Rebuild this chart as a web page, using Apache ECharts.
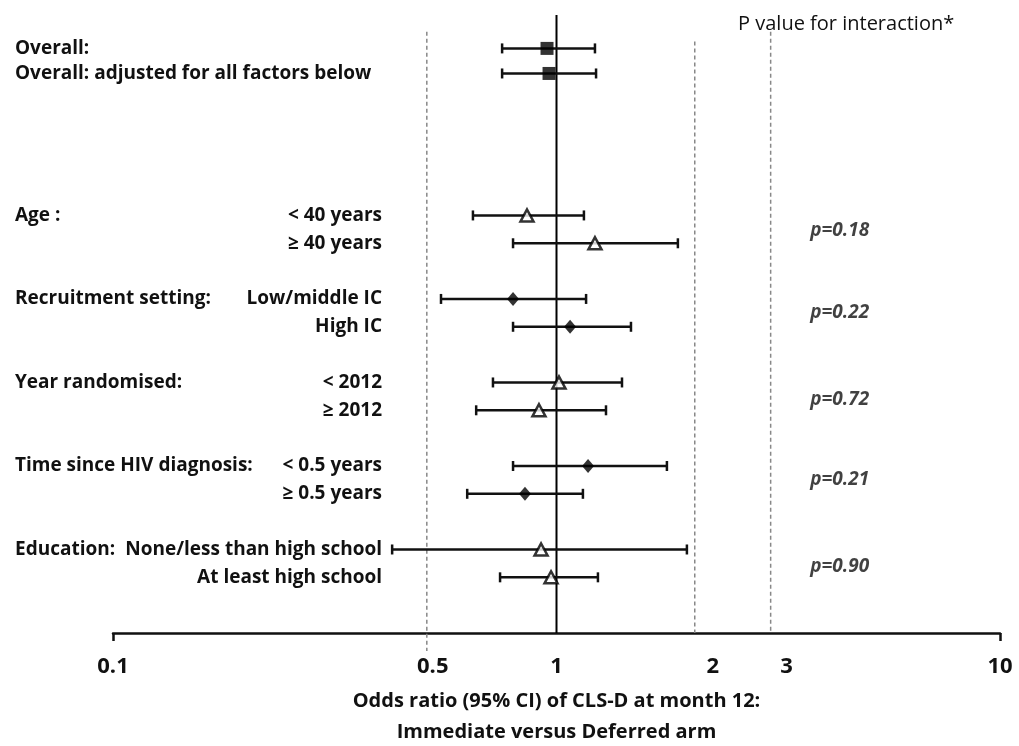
<!DOCTYPE html>
<html>
<head>
<meta charset="utf-8">
<script src="https://cdn.jsdelivr.net/npm/echarts@6/dist/echarts.min.js"></script>
<style>
  html, body { margin: 0; padding: 0; background: #fff; }
  #chart { width: 1019px; height: 746px; }
</style>
</head>
<body>
<div id="chart"></div>
<script>
  // rows of the forest plot, top to bottom
  const groupLabels = ['Overall:', 'Overall: adjusted for all factors below', 'Age :', '', 'Recruitment setting:', '', 'Year randomised:', '', 'Time since HIV diagnosis:', '', 'Education:', '']
  const subLabels = ['', '', '< 40 years', '≥ 40 years', 'Low/middle IC', 'High IC', '< 2012', '≥ 2012', '< 0.5 years', '≥ 0.5 years', 'None/less than high school', 'At least high school']
  const rowSlots = [0, 0.9, 6, 7, 9, 10, 12, 13, 15, 16, 18, 19]
  const oddsRatio = [0.952, 0.962, 0.858, 1.221, 0.798, 1.073, 1.013, 0.913, 1.178, 0.849, 0.923, 0.972]
  const ciLower = [0.754, 0.754, 0.648, 0.798, 0.549, 0.798, 0.719, 0.659, 0.798, 0.629, 0.426, 0.746]
  const ciUpper = [1.221, 1.228, 1.153, 1.878, 1.166, 1.472, 1.405, 1.293, 1.774, 1.147, 1.968, 1.240]
  const markerKind = ['square', 'square', 'triangle', 'triangle', 'diamond', 'diamond', 'triangle', 'triangle', 'diamond', 'diamond', 'triangle', 'triangle']

  // interaction p values, one per subgroup pair
  const pValues = ['p=0.18', 'p=0.22', 'p=0.72', 'p=0.21', 'p=0.90']
  const pValueSlots = [6.55, 9.5, 12.6, 15.5, 18.6]
  const pValueAt = 4.35

  // x axis labels and where they sit on the log scale
  const tickLabels = ['0.1', '0.5', '1', '2', '3', '10']
  const tickLabelAt = [0.1, 0.526, 1, 2.25, 3.3, 10]
  const refLines = [0.51, 2.05, 3.04]

  const FONT = '"Open Sans"'
  const TXT = '#111'

  let chart = echarts.init(document.getElementById('chart'), null, { renderer: 'canvas' })

  const markerStyle = {
    square: { symbol: 'rect', symbolSize: [13, 13], itemStyle: { color: '#000' } },
    diamond: { symbol: 'diamond', symbolSize: [12, 14], itemStyle: { color: '#000' } },
    triangle: { symbol: 'triangle', symbolSize: [13, 12], itemStyle: { color: '#fff', borderColor: '#000', borderWidth: 2.5 } }
  }

  const ciData = rowSlots.map((s, i) => [ciLower[i], ciUpper[i], s])
  const pointData = rowSlots.map((s, i) => Object.assign({ value: [oddsRatio[i], s] }, markerStyle[markerKind[i]]))

  const groupSlots = rowSlots.filter((s, i) => groupLabels[i] !== '')
  const subSlots = rowSlots.filter((s, i) => subLabels[i] !== '')

  const refSeries = refLines.map((v, i) => ({
    type: 'line',
    silent: true,
    clip: false,
    symbol: 'none',
    lineStyle: { color: '#888', width: 1.5, type: [4, 3] },
    data: i === 0 ? [[v, -0.6], [v, 21.65]] : [[v, i === 1 ? -0.25 : -0.6], [v, 21]],
    z: 1
  }))

  let option = {
    backgroundColor: '#fff',
    animation: false,
    title: {
      text: 'P value for interaction*',
      left: 733,
      top: 9,
      textStyle: { fontFamily: FONT, fontSize: 20, fontWeight: 'normal', color: TXT }
    },
    grid: { left: 113, right: 19, top: 15, bottom: 113, outerBoundsMode: 'none' },
    xAxis: {
      type: 'log',
      logBase: 10,
      min: 0.1,
      max: 10,
      axisLine: { show: true, onZero: false, lineStyle: { color: '#111', width: 2.5 } },
      axisTick: { show: true, customValues: [0.1, 10], length: 8, lineStyle: { color: '#111', width: 2.5 } },
      splitLine: { show: false },
      axisLabel: {
        customValues: tickLabelAt,
        formatter: (v) => {
          let k = tickLabelAt.findIndex(t => Math.abs(t - v) < 1e-6)
          return k >= 0 ? tickLabels[k] : ''
        },
        margin: 23,
        fontFamily: FONT,
        fontWeight: 'bold',
        fontSize: 22,
        color: TXT
      },
      name: 'Odds ratio (95% CI) of CLS-D at month 12:\nImmediate versus Deferred arm',
      nameLocation: 'middle',
      nameGap: 53,
      nameTextStyle: { fontFamily: FONT, fontWeight: 'bold', fontSize: 20, color: TXT, lineHeight: 31, align: 'center' }
    },
    yAxis: [{
      type: 'value',
      inverse: true,
      min: -1.2,
      max: 21,
      axisLine: { show: false },
      axisTick: { show: false },
      splitLine: { show: false },
      axisLabel: {
        customValues: groupSlots,
        formatter: (v) => groupLabels[rowSlots.indexOf(v)] || '',
        align: 'left',
        margin: 98,
        fontFamily: FONT,
        fontWeight: 'bold',
        fontSize: 19,
        color: TXT
      }
    }, {
      type: 'value',
      inverse: true,
      min: -1.2,
      max: 21,
      position: 'left',
      axisLine: { show: false },
      axisTick: { show: false },
      splitLine: { show: false },
      axisLabel: {
        customValues: subSlots,
        formatter: (v) => subLabels[rowSlots.indexOf(v)] || '',
        align: 'right',
        margin: -269,
        fontFamily: FONT,
        fontWeight: 'bold',
        fontSize: 19,
        color: TXT
      }
    }],
    series: [
      ...refSeries,
      {
        // line of no effect
        type: 'line',
        silent: true,
        clip: false,
        symbol: 'none',
        lineStyle: { color: '#000', width: 2 },
        data: [[1, -1.2], [1, 21]],
        z: 2
      },
      {
        type: 'custom',
        name: 'ci',
        silent: true,
        clip: false,
        data: ciData,
        encode: { x: [0, 1], y: 2 },
        renderItem: (params, api) => {
          let a = api.coord([api.value(0), api.value(2)])
          let b = api.coord([api.value(1), api.value(2)])
          let st = { stroke: '#111', lineWidth: 2.5 }
          return {
            type: 'group',
            children: [
              { type: 'line', shape: { x1: a[0], y1: a[1], x2: b[0], y2: b[1] }, style: st },
              { type: 'line', shape: { x1: a[0], y1: a[1] - 5, x2: a[0], y2: a[1] + 5 }, style: st },
              { type: 'line', shape: { x1: b[0], y1: b[1] - 5, x2: b[0], y2: b[1] + 5 }, style: st }
            ]
          }
        },
        z: 3
      },
      {
        type: 'scatter',
        name: 'or',
        silent: true,
        data: pointData,
        z: 4
      },
      {
        type: 'scatter',
        name: 'p',
        silent: true,
        symbolSize: 1,
        itemStyle: { color: 'rgba(0,0,0,0)' },
        label: {
          show: true,
          position: 'inside',
          formatter: (p) => pValues[p.dataIndex],
          fontFamily: FONT,
          fontWeight: 'bold',
          fontStyle: 'italic',
          fontSize: 19,
          color: TXT
        },
        data: pValueSlots.map(s => [pValueAt, s]),
        z: 4
      }
    ]
  }

  chart.setOption(option)
</script>
</body>
</html>
